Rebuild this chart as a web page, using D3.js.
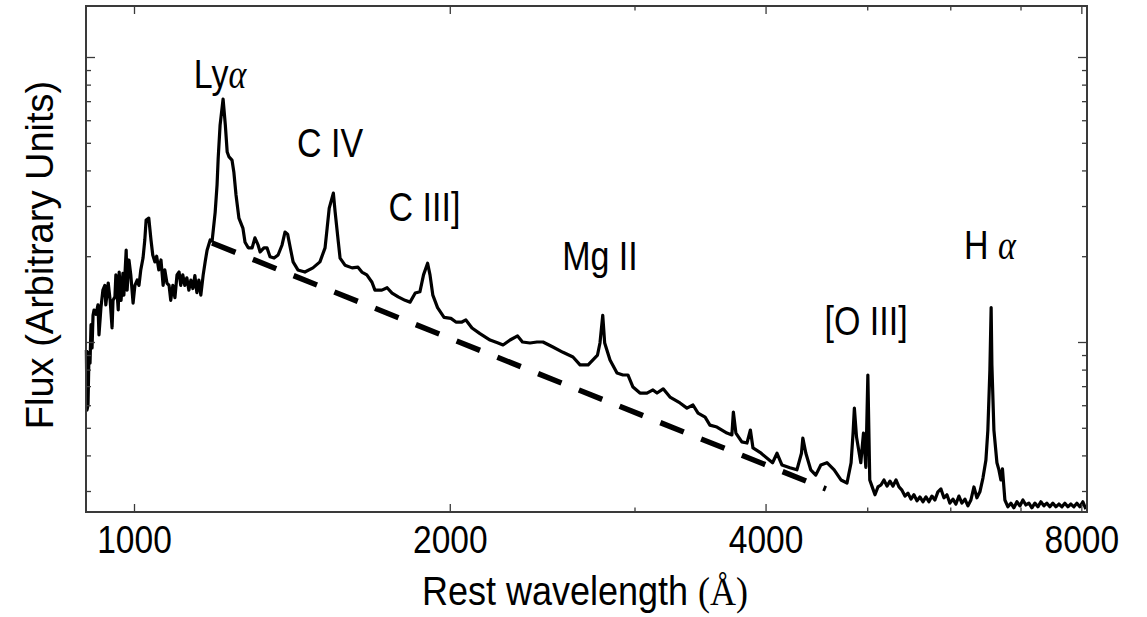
<!DOCTYPE html>
<html><head><meta charset="utf-8">
<script src="https://cdn.jsdelivr.net/npm/d3@7"></script>
<style>body{margin:0;background:#fff}svg{display:block}</style>
</head><body>
<svg id="chart" width="1147" height="617"></svg>
<script>
// ---------- data ----------
const wavelength = [900.7,902,904,906,908,910,912,914,916,920,924,926,930,934,938,940,945,949,953,955,959,961,966,968,972,976,978,983,985,989,993,998,1002,1007,1011,1015,1020,1024,1027,1033,1038,1042,1047,1051,1056,1061,1066,1070,1075,1080,1084,1089,1094,1099,1104,1108,1113,1118,1123,1128,1133,1138,1143,1148,1153,1158,1164,1169,1174,1182,1187,1195,1200,1203,1208,1216,1222,1227,1232,1240,1245,1251,1259,1270,1276,1285,1296,1304,1313,1319,1330,1339,1348,1360,1372,1384,1393,1401,1410,1418,1433,1455,1481,1504,1521,1528,1535,1549,1555,1566,1572,1589,1614,1635,1649,1667,1686,1697,1723,1743,1762,1786,1813,1833,1854,1873,1888,1905,1915,1927,1947,1975,2005,2027,2054,2072,2100,2137,2185,2224,2248,2283,2321,2346,2385,2422,2454,2508,2564,2621,2662,2710,2766,2781,2798,2810,2843,2887,2925,2957,2990,3036,3083,3124,3152,3195,3243,3315,3366,3411,3449,3503,3540,3595,3675,3715,3727,3748,3797,3840,3869,3891,3951,4011,4062,4102,4147,4220,4285,4328,4341,4370,4417,4466,4516,4577,4650,4720,4783,4826,4847,4861,4884,4930,4959,4985,5007,5028,
  5052,5086,5119,5153,5187,5222,5256,5291,5326,5361,5396,5432,5468,5504,5540,5577,5613,5650,5688,5725,5763,5801,5839,5878,5917,5956,5995,6035,6075,6115,6155,6196,6237,6278,6320,6361,6403,6446,
  6488,6516,6545,6563,6574,6603,6647,6676,6705,6728,
  6764,6809,6854,6899,6945,6990,7037,7083,7130,7177,7224,7272,7320,7369,7417,7466,7516,7565,7615,7666,7716,7767,7819,7870,7922,7974,8027,8080];
const flux = [9.37,5.77,6.01,9.22,8.42,11.5,9.53,12.4,12.95,12.5,13.5,10.6,13.2,15.2,15.8,13.5,16.1,14.0,11.2,14.0,14.4,17.2,12.95,17.6,14.0,17.4,14.6,21.0,15.2,19.4,17.2,13.7,15.8,16.5,15.8,17.9,19.7,22.8,26.8,27.2,22.8,20.2,19.1,20.0,17.9,19.4,15.8,17.9,16.1,15.8,14.0,15.8,14.3,17.2,17.6,15.8,17.2,15.8,16.8,15.2,16.5,15.4,17.1,14.9,16.5,14.6,17.2,19.1,21.0,22.8,22.6,28.5,35.6,44.2,57.7,71.2,57.7,46.4,44.6,43.5,39.5,32.8,27.2,25.1,22.4,21.4,21.4,23.2,21.9,20.7,21.4,21.4,19.9,19.7,20.2,21.9,24.3,23.9,21.2,19.1,17.9,17.6,18.2,19.1,21.4,25.1,29.5,33.3,28.6,22.4,19.7,18.6,18.2,18.3,17.6,17.2,16.2,15.2,15.2,15.5,14.85,14.4,14.0,13.8,14.85,15.0,17.2,18.9,17.2,14.6,13.2,12.2,12.1,11.75,11.75,11.95,11.2,10.7,10.16,9.92,9.76,10.16,10.5,10.0,9.92,10.0,10.0,9.6,9.2,8.86,8.31,8.31,9.0,9.92,12.4,9.92,8.65,7.78,7.66,7.66,6.95,6.62,6.62,6.79,6.62,6.85,6.41,6.11,5.86,6.01,5.63,5.45,5.11,5.03,4.79,4.72,5.68,4.79,4.46,4.42,4.91,4.25,4.1,3.92,3.77,4.07,3.70,3.62,3.56,4.07,4.60,4.07,3.56,3.41,3.70,3.77,3.56,3.28,3.20,3.77,4.79,5.86,4.64,3.77,4.79,3.63,7.66,3.28,
  3.12,2.91,3.10,3.15,3.28,3.12,3.25,3.12,3.28,3.10,3.02,2.88,2.95,2.81,2.91,2.77,2.86,2.75,2.86,2.75,2.88,2.79,2.98,3.05,2.84,2.91,2.72,2.81,2.70,2.88,2.72,2.81,2.66,2.79,3.10,2.84,2.98,3.33,
  3.85,4.91,7.98,13.2,8.31,4.91,3.77,3.56,3.28,3.59,
  2.79,2.64,2.72,2.62,2.75,2.66,2.79,2.68,2.72,2.62,2.72,2.64,2.75,2.66,2.72,2.64,2.72,2.64,2.70,2.64,2.72,2.64,2.70,2.64,2.72,2.64,2.75,2.59];

const powerLawWavelength = [1187, 4567];
const powerLawFlux = [22.25, 3.05];

const xDomain = [900, 8100];
const yDomain = [2.532, 151];
const xLabelTicks = [1000, 2000, 4000, 8000];
const xMinorTicks = [3000, 5000, 6000, 7000];
const yMajorTicks = [10, 100];
const yMinorTicks = [3,4,5,6,7,8,9,20,30,40,50,60,70,80,90];

const lineNames = ["Ly", "C IV", "C III]", "Mg II", "[O III]", "H "];
const lineGreek = ["α", "", "", "", "", "α"];
const labelWavelength = [1208, 1538, 1892, 2781, 4987, 6545];
const labelFlux = [77.8, 44.6, 26.6, 17.9, 10.57, 19.5];

const xTitle = "Rest wavelength ";
const yTitle = "Flux (Arbitrary Units)";

// ---------- drawing ----------
const svg = d3.select("#chart");
const L = 86, R = 1087, T = 6, B = 512;
const x = d3.scaleLog().domain(xDomain).range([L, R]);
const y = d3.scaleLog().domain(yDomain).range([B, T]);

const SANS = "'Liberation Sans', Arial, Helvetica, sans-serif";
const SERIF = "'Liberation Serif', 'DejaVu Serif', serif";

// spectrum
const pts = wavelength.map((w, i) => [w, flux[i]]);
svg.append("path")
  .datum(pts)
  .attr("fill", "none")
  .attr("stroke", "#000")
  .attr("stroke-width", 3.2)
  .attr("stroke-linejoin", "round")
  .attr("d", d3.line().x(d => x(d[0])).y(d => y(d[1])));

// power law
svg.append("path")
  .datum(powerLawWavelength.map((w, i) => [w, powerLawFlux[i]]))
  .attr("fill", "none")
  .attr("stroke", "#000")
  .attr("stroke-width", 5.5)
  .attr("stroke-dasharray", "25.2,18.7")
  .attr("d", d3.line().x(d => x(d[0])).y(d => y(d[1])));

// axes (ticks inward on all sides)
const axisColor = "#3a3a3a";
function styleAxis(g) {
  g.selectAll(".domain").remove();
  g.selectAll(".tick line").attr("stroke", axisColor).attr("stroke-width", 1.3);
}
svg.append("g").attr("transform", `translate(0,${B})`)
  .call(d3.axisBottom(x).tickValues(xLabelTicks).tickSize(-8).tickFormat(d3.format("d")))
  .call(styleAxis)
  .call(g => g.selectAll(".tick text")
     .attr("font-family", SANS).attr("font-size", 39).attr("fill", "#000")
     .attr("dy", null).attr("y", 0)
     .attr("transform", "translate(0,41) scale(0.86,1)"));
svg.append("g").attr("transform", `translate(0,${B})`)
  .call(d3.axisBottom(x).tickValues(xMinorTicks).tickSize(-4.5).tickFormat(""))
  .call(styleAxis);
svg.append("g").attr("transform", `translate(0,${T})`)
  .call(d3.axisTop(x).tickValues(xLabelTicks).tickSize(-8).tickFormat(""))
  .call(styleAxis);
svg.append("g").attr("transform", `translate(0,${T})`)
  .call(d3.axisTop(x).tickValues(xMinorTicks).tickSize(-4.5).tickFormat(""))
  .call(styleAxis);
[[d3.axisLeft, L], [d3.axisRight, R]].forEach(([ax, pos]) => {
  svg.append("g").attr("transform", `translate(${pos},0)`)
    .call(ax(y).tickValues(yMajorTicks).tickSize(-9).tickFormat(""))
    .call(styleAxis);
  svg.append("g").attr("transform", `translate(${pos},0)`)
    .call(ax(y).tickValues(yMinorTicks).tickSize(-5).tickFormat(""))
    .call(styleAxis);
});

// frame
svg.append("rect")
  .attr("x", L).attr("y", T).attr("width", R - L).attr("height", B - T)
  .attr("fill", "none").attr("stroke", axisColor).attr("stroke-width", 2);

// line labels
lineNames.forEach((name, i) => {
  const t = svg.append("text")
    .attr("transform", `translate(${x(labelWavelength[i])},${y(labelFlux[i])}) scale(0.85,1)`)
    .attr("text-anchor", "middle")
    .attr("font-family", SANS).attr("font-size", 40).attr("fill", "#000");
  t.append("tspan").text(name);
  if (lineGreek[i]) t.append("tspan").attr("font-family", SERIF).attr("font-style", "italic").text(lineGreek[i]);
});

// axis titles
const xt = svg.append("text")
  .attr("transform", "translate(585,605) scale(0.9,1)")
  .attr("text-anchor", "middle")
  .attr("font-family", SANS).attr("font-size", 40).attr("fill", "#000");
xt.append("tspan").text(xTitle);
xt.append("tspan").attr("font-family", SERIF).text("(Å)");

svg.append("text")
  .attr("transform", "translate(53,255) rotate(-90)")
  .attr("text-anchor", "middle")
  .attr("font-family", SANS).attr("font-size", 38).attr("fill", "#000")
  .text(yTitle);
</script>
</body></html>
